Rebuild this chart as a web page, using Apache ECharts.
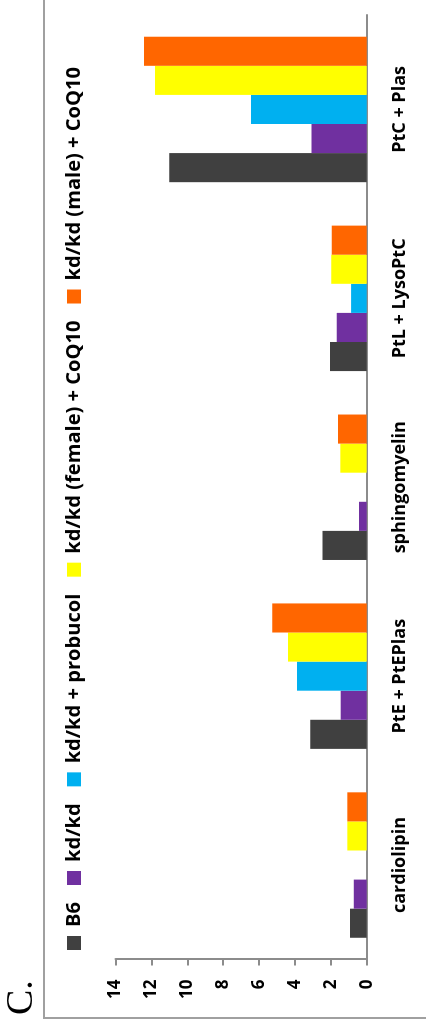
<!DOCTYPE html>
<html>
<head>
<meta charset="utf-8">
<script src="https://cdn.jsdelivr.net/npm/echarts@6/dist/echarts.min.js"></script>
<style>
html, body { margin: 0; padding: 0; width: 426px; height: 1027px; overflow: hidden; background: #fff; }
/* the figure is a column chart turned a quarter turn to the left */
#chart { position: absolute; left: 0; top: 0; width: 1027px; height: 426px;
  transform-origin: 0 0; transform: translate(0, 1027px) rotate(-90deg); }
</style>
</head>
<body>
<div id="chart"></div>
<script>
var categories = ['cardiolipin', 'PtE + PtEPlas', 'sphingomyelin', 'PtL + LysoPtC', 'PtC + Plas'];
var seriesNames = ['B6', 'kd/kd', 'kd/kd + probucol', 'kd/kd (female) + CoQ10', 'kd/kd (male) + CoQ10'];
var b6 = [0.93, 3.14, 2.47, 2.05, 11.0];
var kdkd = [0.72, 1.45, 0.43, 1.67, 3.07];
var probucol = [null, 3.89, null, 0.87, 6.45];
var femaleCoQ10 = [1.08, 4.39, 1.47, 1.97, 11.8];
var maleCoQ10 = [1.08, 5.26, 1.60, 1.95, 12.41];
var valueMax = 14;
var valueStep = 2;

var colors = ['#404040', '#7030A0', '#00B0F0', '#FFFF00', '#FF6600'];
var seriesData = [b6, kdkd, probucol, femaleCoQ10, maleCoQ10];

var chart = echarts.init(document.getElementById('chart'), null, {renderer: 'canvas'});

var series = seriesNames.map(function (name, i) {
    return {
        name: name,
        type: 'bar',
        data: seriesData[i],
        barGap: '0%',
        barCategoryGap: '23%',
        itemStyle: {color: colors[i]}
    };
});

var axisGray = '#8c8c8c';
var labelFont = {fontFamily: 'Open Sans', fontWeight: 'bold', color: '#000'};

chart.setOption({
    backgroundColor: '#fff',
    animation: false,
    color: colors,
    legend: {
        data: seriesNames,
        left: 77,
        top: 64,
        padding: 0,
        itemGap: 17,
        itemWidth: 14,
        itemHeight: 14,
        icon: 'rect',
        textStyle: {fontFamily: 'Open Sans', fontWeight: 'bold', fontSize: 20.1, color: '#000', padding: [0, 0, 0, 4]}
    },
    grid: {left: 67.5, right: 15, top: 115.5, bottom: 59.3, outerBoundsMode: 'none'},
    xAxis: {
        type: 'category',
        data: categories,
        axisLine: {lineStyle: {color: axisGray, width: 2}},
        axisTick: {length: 8, lineStyle: {color: axisGray, width: 2}},
        axisLabel: Object.assign({margin: 24, fontSize: 18, interval: 0}, labelFont)
    },
    yAxis: {
        type: 'value',
        min: 0,
        max: valueMax,
        interval: valueStep,
        axisLine: {show: true, lineStyle: {color: axisGray, width: 2}},
        axisTick: {show: true, length: 6, lineStyle: {color: axisGray, width: 2}},
        splitLine: {show: false},
        axisLabel: Object.assign({margin: 20, fontSize: 17}, labelFont)
    },
    graphic: [
        {
            type: 'rect',
            shape: {x: 9, y: 44, width: 1200, height: 600},
            style: {fill: 'transparent', stroke: '#a0a0a0', lineWidth: 2},
            silent: true
        },
        {
            type: 'text',
            left: 12,
            top: 3,
            style: {text: 'C.', font: '38px "Liberation Serif"', fill: '#000'}
        }
    ],
    series: series
});
</script>
</body>
</html>
